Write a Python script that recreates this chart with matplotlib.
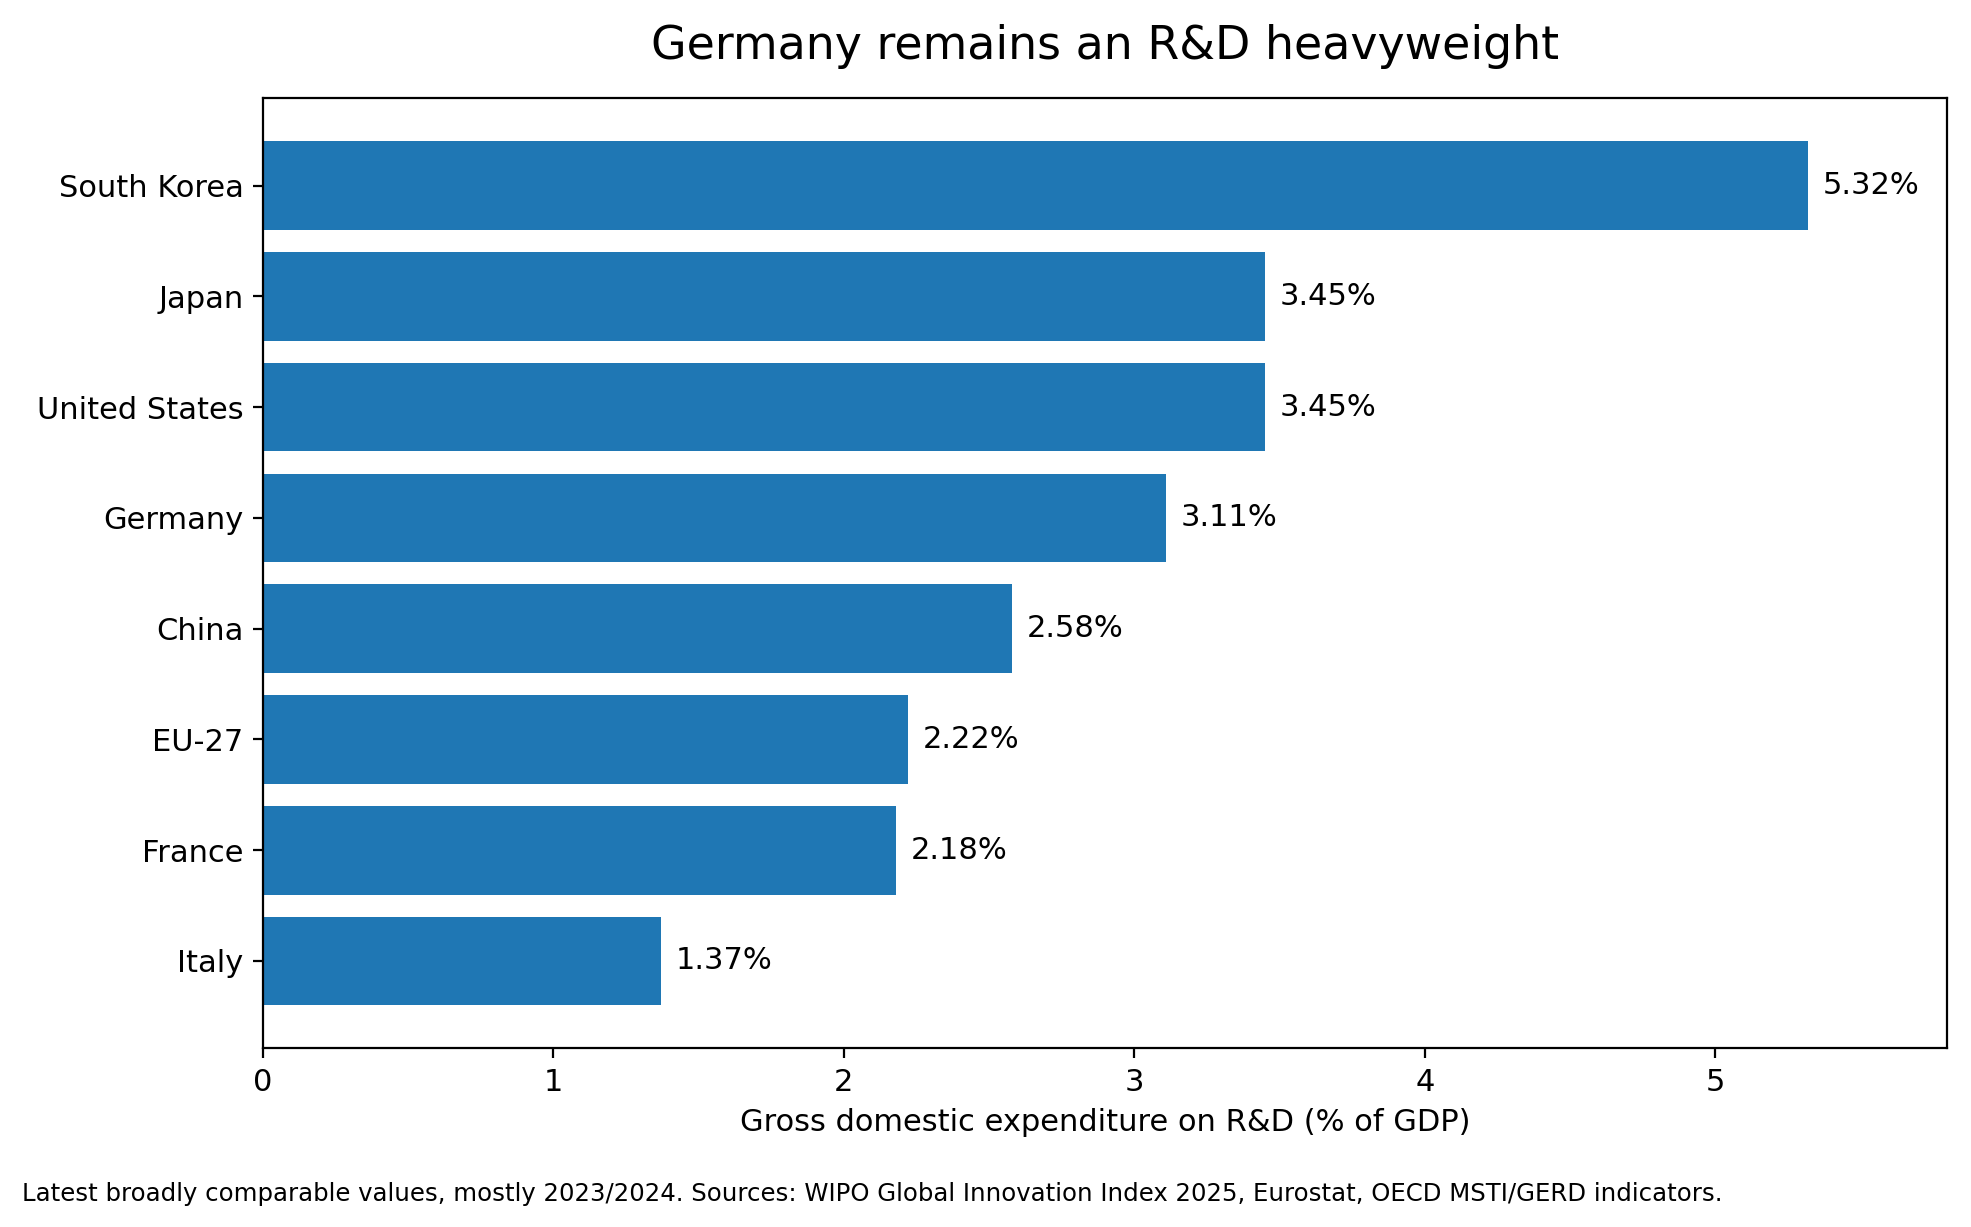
import matplotlib
matplotlib.use("Agg")
import matplotlib.pyplot as plt

# Daten (GERD in % des BIP)
countries = ["South Korea", "Japan", "United States", "Germany", "China", "EU-27", "France", "Italy"]
values = [5.32, 3.45, 3.45, 3.11, 2.58, 2.22, 2.18, 1.37]

def main():
    fig = plt.figure(figsize=(9.855, 6.135), dpi=200)
    ax = fig.add_axes([0.1334, 0.1455, 0.8546, 0.7745])

    # Reihenfolge umdrehen, damit der größte Wert oben steht
    labels = countries[::-1]
    vals = values[::-1]
    ax.barh(labels, vals, height=0.8, color="#1f77b4")

    for i, v in enumerate(vals):
        ax.text(v + 0.05, i, f"{v:.2f}%", va="center", ha="left", fontsize=11)

    ax.set_xlim(0, max(values) * 1.09)
    ax.tick_params(axis="both", labelsize=11)
    ax.set_xlabel("Gross domestic expenditure on R&D (% of GDP)", fontsize=11)
    ax.set_title("Germany remains an R&D heavyweight", fontsize=16.5, pad=14)

    fig.text(0.011, 0.027,
             "Latest broadly comparable values, mostly 2023/2024. Sources: WIPO Global Innovation Index 2025, "
             "Eurostat, OECD MSTI/GERD indicators.",
             fontsize=8.8, ha="left", va="center")

    fig.savefig("out.png", dpi=200)
    plt.close(fig)

if __name__ == "__main__":
    main()
